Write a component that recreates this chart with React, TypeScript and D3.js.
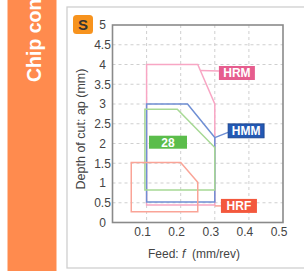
import React from "react";
import * as d3 from "d3";

const W = 304;
const H = 271;

const xTicks = [0.1, 0.2, 0.3, 0.4, 0.5];
const yTicks = [0, 0.5, 1, 1.5, 2, 2.5, 3, 3.5, 4, 4.5, 5];

// chip-breaker application ranges: feed (mm/rev) vs depth (mm)
const hrmFeed = [0.1, 0.1, 0.25, 0.3, 0.3];
const hrmDepth = [0.44, 4, 4, 3, 0.44];
const hmmFeed = [0.1, 0.1, 0.22, 0.3, 0.3];
const hmmDepth = [0.52, 3, 3, 2.15, 0.52];
const g28Feed = [0.095, 0.095, 0.19, 0.3, 0.3];
const g28Depth = [0.82, 2.87, 2.87, 1.9, 0.82];
const hrfFeed = [0.055, 0.055, 0.2, 0.25, 0.25];
const hrfDepth = [0.27, 1.52, 1.52, 1.02, 0.27];

const labelNames = ["HRM", "HMM", "28", "HRF"];
const labelFeed = [0.312, 0.339, 0.107, 0.318];
const labelDepth = [3.785, 2.32, 2.02, 0.42];
// connector: from shape point to label
const connFromFeed = [0.258, 0.3, null, 0.3];
const connFromDepth = [3.85, 2.15, null, 0.42];

const lineColors = ["#f8a6c4", "#6f8fd4", "#a7d995", "#faa497"];
const labelColors = ["#e65d8e", "#2359b4", "#5bbd4b", "#f3583d"];

const FONT = "'Liberation Sans', Arial, Helvetica, sans-serif";

export default function App() {
  const x = d3.scaleLinear().domain([0, 0.5]).range([112.5, 283]);
  const y = d3.scaleLinear().domain([0, 5]).range([222.5, 25]);

  const line = d3
    .line<[number, number]>()
    .x((d) => x(d[0]))
    .y((d) => y(d[1]));

  const shapes = [
    { f: hrmFeed, d: hrmDepth, c: lineColors[0] },
    { f: hmmFeed, d: hmmDepth, c: lineColors[1] },
    { f: g28Feed, d: g28Depth, c: lineColors[2] },
    { f: hrfFeed, d: hrfDepth, c: lineColors[3] },
  ];

  const labelW = 36;
  const labelH = 14;

  return (
    <svg
      width={W}
      height={H}
      style={{ position: "absolute", left: 0, top: 0, background: "#fff" }}
      fontFamily={FONT}
    >
      {/* side bar */}
      <rect x={7.5} y={0} width={49} height={H} fill="#ff8b4e" />
      <text
        transform="translate(40.5,82) rotate(-90)"
        fill="#fff"
        fontWeight="bold"
        fontSize={19.5}
        textAnchor="start"
      >
        Chip control
      </text>

      {/* panel */}
      <rect x={67} y={7} width={260} height={261} fill="#fff" stroke="#cfcfcf" strokeWidth={1.3} />

      {/* badge */}
      <rect x={73} y={15} width={20} height={19} rx={3.5} fill="#f7931e" />
      <text x={83} y={24.5} dy="0.36em" textAnchor="middle" fontWeight="bold" fontSize={15} fill="#333">
        S
      </text>

      {/* grid */}
      {xTicks
        .filter((t) => t < 0.5)
        .map((t) => (
          <line
            key={"gx" + t}
            x1={x(t)}
            x2={x(t)}
            y1={y(5)}
            y2={y(0)}
            stroke="#cfcfcf"
            strokeDasharray="3,3"
          />
        ))}
      {yTicks
        .filter((t) => t > 0 && t < 5)
        .map((t) => (
          <line
            key={"gy" + t}
            x1={x(0)}
            x2={x(0.5)}
            y1={y(t)}
            y2={y(t)}
            stroke="#cfcfcf"
            strokeDasharray="3,3"
          />
        ))}

      {/* frame */}
      <rect
        x={x(0)}
        y={y(5)}
        width={x(0.5) - x(0)}
        height={y(0) - y(5)}
        fill="none"
        stroke="#8a8a8a"
        strokeWidth={1.6}
      />

      {/* shapes */}
      {shapes.map((s, i) => (
        <path
          key={"s" + i}
          d={line(s.f.map((v, j) => [v, s.d[j]] as [number, number]))! + "Z"}
          fill="none"
          stroke={s.c}
          strokeWidth={1.5}
        />
      ))}

      {/* connectors */}
      {labelNames.map((n, i) =>
        connFromFeed[i] == null ? null : (
          <line
            key={"c" + n}
            x1={x(connFromFeed[i] as number)}
            y1={y(connFromDepth[i] as number)}
            x2={x(labelFeed[i])}
            y2={y(labelDepth[i]) + (i === 1 ? 1.5 : i === 0 ? -2 : 0)}
            stroke={lineColors[i]}
            strokeWidth={1.5}
          />
        )
      )}

      {/* labels */}
      {labelNames.map((n, i) => (
        <g key={"l" + n}>
          <rect
            x={x(labelFeed[i])}
            y={y(labelDepth[i]) - labelH / 2}
            width={labelW + (n === "28" ? 2 : 0)}
            height={n === "28" ? 13 : labelH}
            fill={labelColors[i]}
            stroke={i === 1 ? "#173f8a" : "none"}
            strokeWidth={0.8}
          />
          <text
            x={x(labelFeed[i]) + (labelW + (n === "28" ? 2 : 0)) / 2}
            y={y(labelDepth[i]) + (n === "28" ? -0.5 : 0)}
            dy="0.36em"
            textAnchor="middle"
            fontWeight="bold"
            fontSize={12}
            fill="#fff"
          >
            {n}
          </text>
        </g>
      ))}

      {/* y tick labels */}
      {yTicks.map((t) => (
        <text key={"yt" + t} x={102.5} y={y(t)} dy="0.36em" textAnchor="middle" fontSize={12} fill="#444">
          {String(t)}
        </text>
      ))}

      {/* x tick labels */}
      {xTicks.map((t) => (
        <text key={"xt" + t} x={x(t) - 4} y={236} textAnchor="middle" fontSize={12} fill="#444">
          {String(t)}
        </text>
      ))}

      {/* axis titles */}
      <text x={194} y={258} textAnchor="middle" fontSize={12} fill="#444" xmlSpace="preserve">
        {"Feed: "}
        <tspan fontStyle="italic">f</tspan>
        {"  (mm/rev)"}
      </text>
      <text transform="translate(84.5,129) rotate(-90)" textAnchor="middle" fontSize={12.5} fill="#444">
        Depth of cut: ap (mm)
      </text>
    </svg>
  );
}
